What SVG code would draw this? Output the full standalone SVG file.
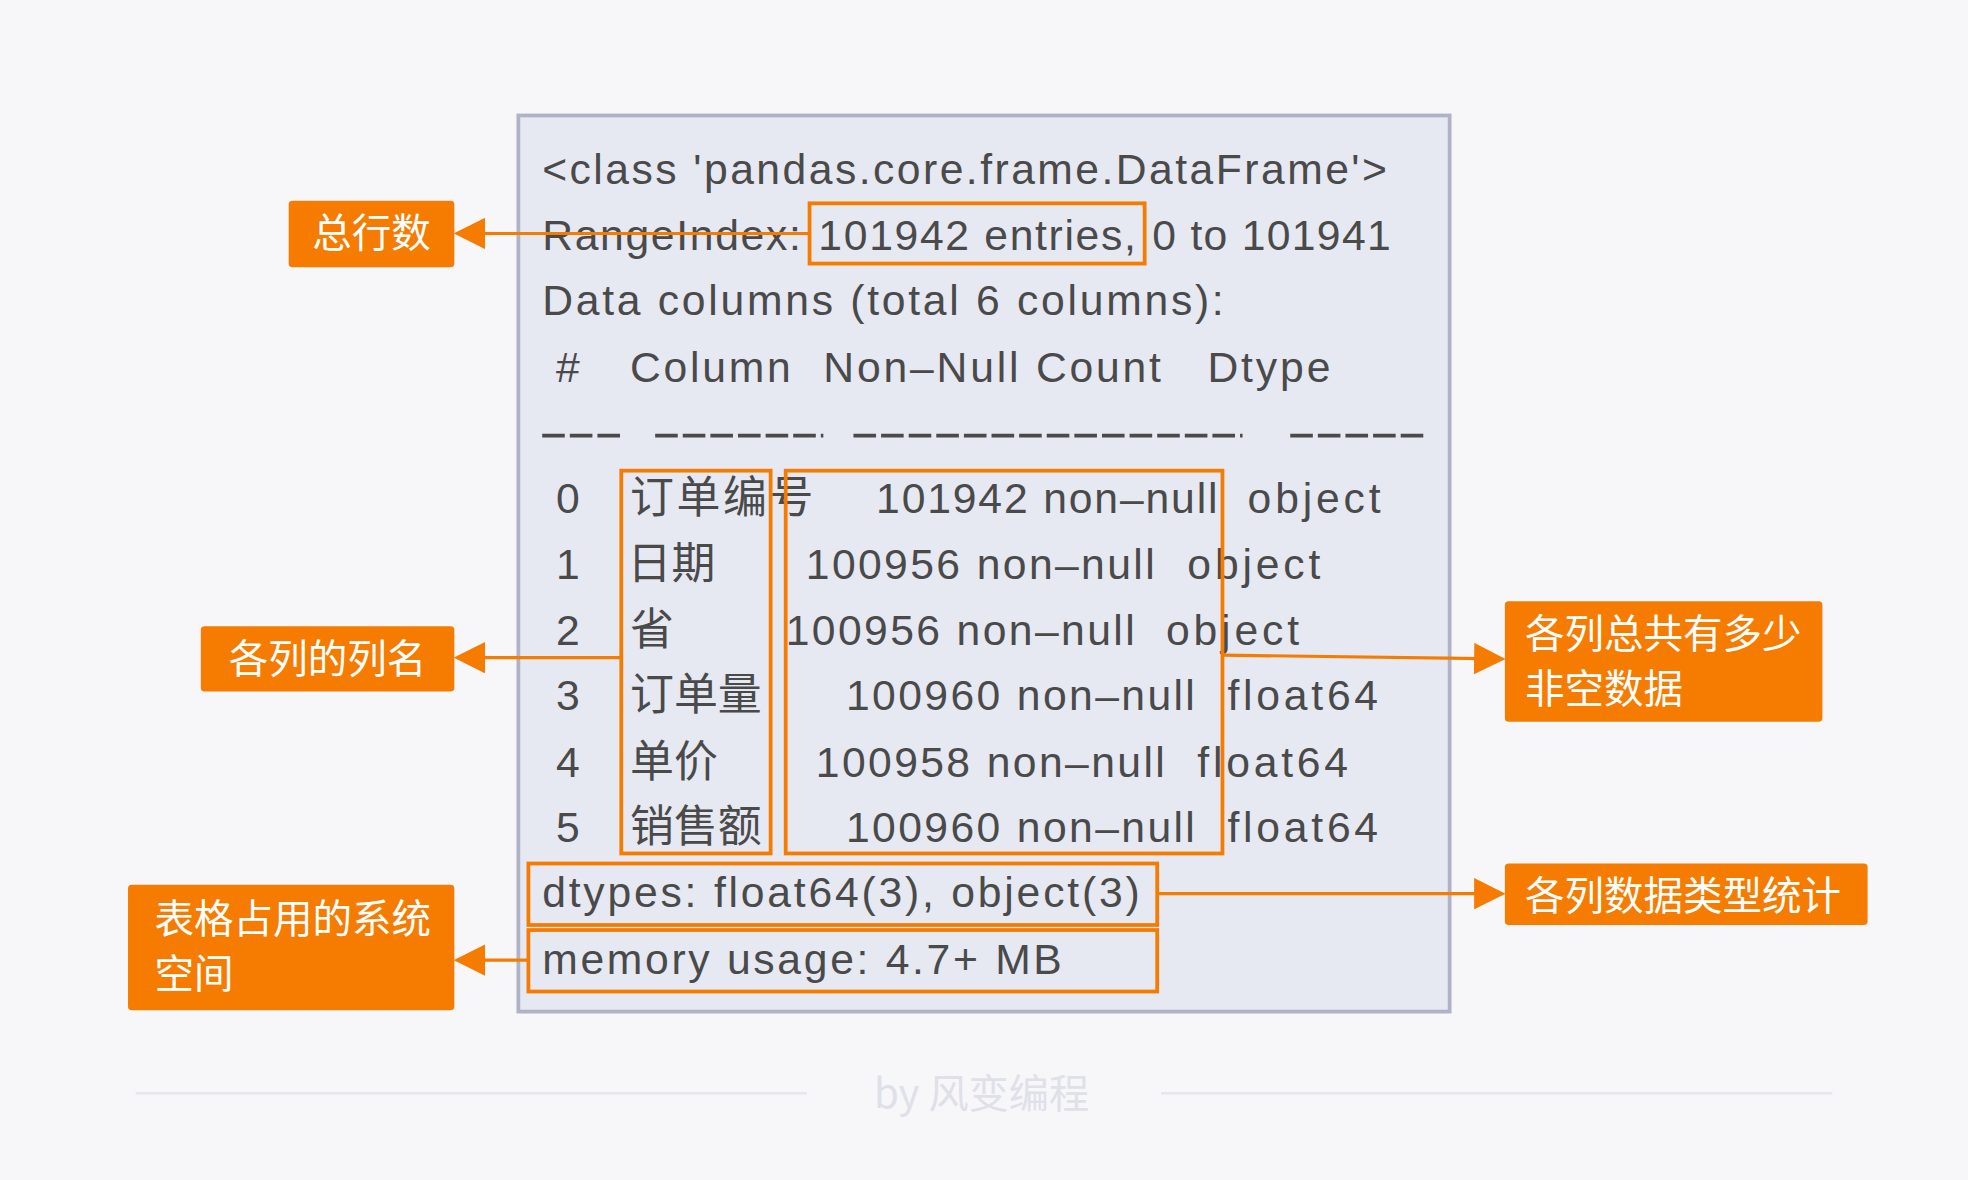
<svg xmlns="http://www.w3.org/2000/svg" width="1968" height="1180" viewBox="0 0 1968 1180">
<defs>
<style>
.t{font-family:"Liberation Sans","Noto Sans CJK SC",sans-serif;font-size:34px;fill:#4a4a4a}
.z{font-family:"Noto Sans CJK SC",sans-serif;font-size:35px;fill:#4a4a4a}
.l{font-family:"Noto Sans CJK SC","Liberation Sans",sans-serif;font-size:31.5px;fill:#fff}
.hl{fill:none;stroke:#f57c00;stroke-width:3}
.lb{fill:#f57c00}
.c{stroke:#f57c00;stroke-width:2.5;fill:none;marker-end:url(#a)}
</style>
<marker id="a" viewBox="0 0 10 10" refX="9" refY="5" markerWidth="10" markerHeight="10" markerUnits="strokeWidth" orient="auto"><path d="M0,0L10,5L0,10z" fill="#f57c00"/></marker>
</defs>
<rect width="1968" height="1180" fill="#f7f7fa"/>
<g transform="scale(1.2551)">
<g id="frame">
<rect x="413" y="92" width="742" height="714" fill="#e6e8f2" stroke="#b0b3c6" stroke-width="3"/>
<text class="t" x="432" y="147" textLength="673">&lt;class 'pandas.core.frame.DataFrame'&gt;</text>
<text class="t" x="432" y="199" textLength="206">RangeIndex:</text><text class="t" x="652" y="199" textLength="253">101942 entries,</text><text class="t" x="918" y="199" textLength="190">0 to 101941</text>
<text class="t" x="432" y="251" textLength="543">Data columns (total 6 columns):</text>
<text class="t" x="443" y="304">#</text><text class="t" x="502" y="304" textLength="128">Column</text><text class="t" x="656" y="304" textLength="269">Non–Null Count</text><text class="t" x="962" y="304" textLength="98">Dtype</text>
<g stroke="#4a4a4a" stroke-width="3" stroke-dasharray="18,4">
<line x1="432" y1="347" x2="498" y2="347"/><line x1="522" y1="347" x2="656" y2="347"/><line x1="680" y1="347" x2="990" y2="347"/><line x1="1028" y1="347" x2="1138" y2="347"/>
</g>
<text class="t" x="443" y="409">0</text><text class="z" x="502" y="409" textLength="146">订单编号</text><text class="t" x="698" y="409" textLength="272">101942 non–null</text><text class="t" x="994" y="409" textLength="106">object</text>
<text class="t" x="443" y="461">1</text><text class="z" x="500" y="461">日期</text><text class="t" x="642" y="461" textLength="278">100956 non–null</text><text class="t" x="946" y="461" textLength="106">object</text>
<text class="t" x="443" y="514">2</text><text class="z" x="502" y="514">省</text><text class="t" x="626" y="514" textLength="278">100956 non–null</text><text class="t" x="929" y="514" textLength="106">object</text>
<text class="t" x="443" y="566">3</text><text class="z" x="502" y="566">订单量</text><text class="t" x="674" y="566" textLength="278">100960 non–null</text><text class="t" x="978" y="566" textLength="120">float64</text>
<text class="t" x="443" y="619">4</text><text class="z" x="502" y="619">单价</text><text class="t" x="650" y="619" textLength="278">100958 non–null</text><text class="t" x="954" y="619" textLength="120">float64</text>
<text class="t" x="443" y="671">5</text><text class="z" x="502" y="671">销售额</text><text class="t" x="674" y="671" textLength="278">100960 non–null</text><text class="t" x="978" y="671" textLength="120">float64</text>
<text class="t" x="432" y="723" textLength="476">dtypes: float64(3), object(3)</text>
<text class="t" x="432" y="776" textLength="414">memory usage: 4.7+ MB</text>
</g>
<g id="highlights">
<rect class="hl" x="645" y="162" width="267" height="48"/>
<rect class="hl" x="495" y="375" width="119" height="305"/>
<rect class="hl" x="626" y="375" width="348" height="305"/>
<rect class="hl" x="421" y="688" width="501" height="49"/>
<rect class="hl" x="421" y="741" width="501" height="49"/>
</g>
<g id="connectors">
<path class="c" d="M645,186H364"/>
<path class="c" d="M495,524H364"/>
<path class="c" d="M974,522L1197,525"/>
<path class="c" d="M922,712H1197"/>
<path class="c" d="M421,765H364"/>
</g>
<g id="n1"><rect class="lb" x="230" y="160" width="132" height="53" rx="3"/><text class="l" x="296" y="197" text-anchor="middle">总行数</text></g>
<g id="n2"><rect class="lb" x="160" y="499" width="202" height="52" rx="3"/><text class="l" x="261" y="536" text-anchor="middle">各列的列名</text></g>
<g id="n3"><rect class="lb" x="1199" y="479" width="253" height="96" rx="3"/><text class="l" x="1215" y="516">各列总共有多少</text><text class="l" x="1215" y="560">非空数据</text></g>
<g id="n4"><rect class="lb" x="1199" y="688" width="289" height="49" rx="3"/><text class="l" x="1215" y="725">各列数据类型统计</text></g>
<g id="n5"><rect class="lb" x="102" y="705" width="260" height="100" rx="3"/><text class="l" x="123" y="743">表格占用的系统</text><text class="l" x="123" y="787">空间</text></g>
<g id="footer">
<line x1="108" y1="871" x2="643" y2="871" stroke="#e6e6ee" stroke-width="2"/>
<line x1="925" y1="871" x2="1460" y2="871" stroke="#e6e6ee" stroke-width="2"/>
<text x="782" y="883" text-anchor="middle" font-family="Noto Sans CJK SC,sans-serif" font-size="32" fill="#e0e0e8">by 风变编程</text>
</g>
</g>
</svg>
